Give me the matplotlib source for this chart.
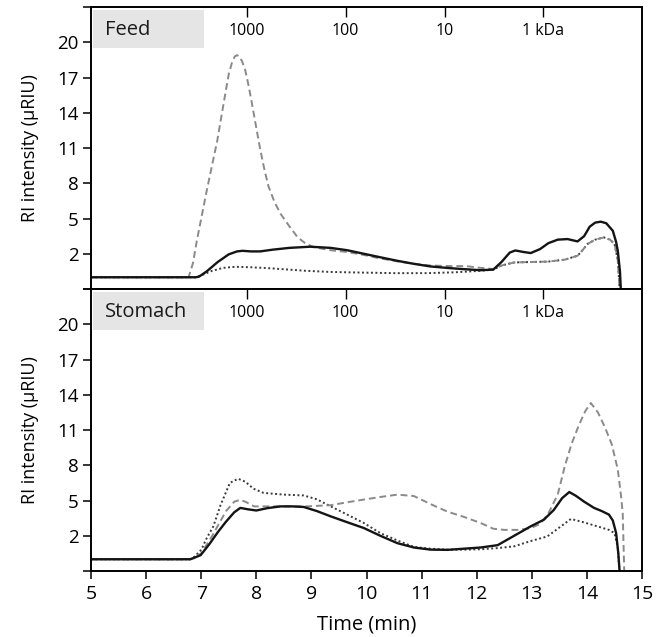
#!/usr/bin/env python
# -*- coding: utf-8 -*-

"""
RI chromatograms of feed and stomach samples,
three traces per panel, with molecular weight marks on top
"""

import sys
import matplotlib
matplotlib.use('Agg')
import matplotlib.pyplot as plt

# Feed panel, solid trace
feed_solid_t = [5.0, 6.9, 6.96, 7.1, 7.3, 7.5, 7.65, 7.75, 7.9, 8.07, 8.3, 8.6,
                8.98, 9.35, 9.65, 9.95, 10.25, 10.56, 10.85, 11.16, 11.5, 11.8,
                12.07, 12.3, 12.45, 12.6, 12.7, 12.85, 12.98, 13.15, 13.3, 13.47,
                13.65, 13.83, 13.95, 14.05, 14.15, 14.25, 14.35, 14.47, 14.53,
                14.56, 14.6, 14.62]
feed_solid_v = [0.0, 0.0, 0.05, 0.5, 1.3, 1.95, 2.2, 2.25, 2.2, 2.2, 2.35, 2.5,
                2.6, 2.5, 2.3, 2.0, 1.7, 1.4, 1.15, 0.92, 0.78, 0.68,
                0.6, 0.65, 1.3, 2.1, 2.28, 2.15, 2.06, 2.4, 2.9, 3.2,
                3.25, 3.05, 3.5, 4.3, 4.65, 4.73, 4.6, 3.96, 3.0,
                2.26, 0.5, -1.5]

# Feed panel, dashed trace
feed_dash_t = [5.0, 6.77, 6.85, 6.92, 7.0, 7.1, 7.2, 7.29, 7.37, 7.44, 7.5,
               7.56, 7.61, 7.65, 7.69, 7.74, 7.8, 7.86, 7.92, 8.0, 8.07, 8.15,
               8.22, 8.33, 8.44, 8.59, 8.75, 8.9, 9.05, 9.35, 9.65, 9.95,
               10.25, 10.56, 10.85, 11.16, 11.5, 11.8, 12.07, 12.3, 12.45,
               12.68, 13.0, 13.29, 13.6, 13.83, 13.92, 14.01, 14.15, 14.31,
               14.42, 14.5, 14.56, 14.6]
feed_dash_v = [0.0, 0.0, 1.2, 3.1, 5.0, 7.37, 9.6, 11.6, 13.8, 15.7, 17.3,
               18.3, 18.8, 18.9, 18.8, 18.4, 17.6, 16.3, 14.8, 12.7, 10.9, 9.1,
               7.75, 6.4, 5.4, 4.4, 3.4, 2.85, 2.55, 2.3, 2.15, 1.9,
               1.6, 1.35, 1.15, 1.0, 0.95, 0.95, 0.8, 0.7, 1.0,
               1.26, 1.3, 1.33, 1.5, 1.83, 2.3, 2.83, 3.2, 3.39,
               3.2, 2.83, 1.5, -1.5]

# Feed panel, dotted trace
feed_dot_t = [5.0, 6.9, 7.02, 7.2, 7.4, 7.62, 7.9, 8.2, 8.44, 8.9, 9.35, 9.9,
              10.5, 11.1, 11.6, 12.07, 12.3, 12.45, 12.68, 13.0, 13.29, 13.6,
              13.83, 13.92, 14.01, 14.15, 14.31, 14.42, 14.5, 14.56, 14.6]
feed_dot_v = [0.0, 0.0, 0.2, 0.55, 0.8, 0.89, 0.85, 0.78, 0.7, 0.55, 0.45, 0.4,
              0.35, 0.35, 0.42, 0.55, 0.65, 1.0, 1.26, 1.3, 1.33, 1.5,
              1.83, 2.3, 2.83, 3.2, 3.39, 3.2, 2.83, 1.5, -1.5]

# Stomach panel, solid trace
stom_solid_t = [5.0, 6.8, 6.86, 6.99, 7.15, 7.3, 7.45, 7.6, 7.71, 7.85, 8.0,
                8.2, 8.44, 8.65, 8.86, 9.1, 9.35, 9.65, 9.95, 10.25, 10.56,
                10.86, 11.16, 11.47, 11.77, 12.07, 12.38, 12.68, 12.98, 13.22,
                13.4, 13.55, 13.68, 13.8, 13.95, 14.13, 14.27, 14.4, 14.47,
                14.53, 14.57, 14.6]
stom_solid_v = [0.0, 0.0, 0.1, 0.35, 1.3, 2.3, 3.2, 4.0, 4.37, 4.25, 4.15,
                4.35, 4.5, 4.5, 4.45, 4.1, 3.65, 3.15, 2.66, 2.0, 1.37,
                1.0, 0.82, 0.8, 0.9, 1.0, 1.2, 2.0, 2.8, 3.37,
                4.2, 5.2, 5.72, 5.4, 4.9, 4.37, 4.1, 3.8, 3.3,
                2.23, 0.5, -1.5]

# Stomach panel, dashed trace
stom_dash_t = [5.0, 6.8, 6.86, 7.0, 7.2, 7.45, 7.6, 7.7, 7.8, 7.96, 8.1, 8.44,
               8.9, 9.35, 9.65, 9.95, 10.25, 10.56, 10.86, 11.16, 11.47, 11.77,
               12.07, 12.3, 12.5, 12.75, 12.98, 13.15, 13.3, 13.47, 13.6, 13.72,
               13.85, 13.97, 14.07, 14.2, 14.33, 14.45, 14.56, 14.62, 14.65,
               14.68]
stom_dash_v = [0.0, 0.0, 0.1, 0.5, 2.0, 4.1, 4.9, 5.05, 4.9, 4.5, 4.5, 4.5,
               4.5, 4.6, 4.85, 5.08, 5.3, 5.5, 5.38, 4.7, 4.05, 3.6,
               3.09, 2.6, 2.5, 2.5, 2.65, 3.0, 3.9, 5.5, 7.94, 9.8,
               11.36, 12.6, 13.3, 12.5, 11.2, 9.8, 7.65, 5.37, 3.9,
               -1.5]

# Stomach panel, dotted trace
stom_dot_t = [5.0, 6.8, 6.86, 7.0, 7.1, 7.22, 7.35, 7.52, 7.67, 7.8, 7.95,
              8.13, 8.5, 8.86, 9.1, 9.35, 9.65, 9.95, 10.25, 10.56, 10.86,
              11.16, 11.47, 11.77, 12.07, 12.38, 12.68, 12.98, 13.28, 13.5,
              13.71, 13.9, 14.19, 14.4, 14.5, 14.56, 14.6]
stom_dot_v = [0.0, 0.0, 0.15, 0.8, 1.8, 2.8, 4.6, 6.5, 6.85, 6.6, 6.0,
              5.65, 5.5, 5.43, 5.1, 4.5, 3.8, 3.09, 2.23, 1.6, 1.05,
              0.9, 0.82, 0.82, 0.85, 0.95, 1.1, 1.55, 1.94, 2.7,
              3.43, 3.2, 2.8, 2.5, 2.23, 1.0, -1.5]

# Molecular weight marks (elution time, label)
mw_times = [7.83, 9.62, 11.42, 13.2]
mw_labels = ['1000', '100', '10', '1 kDa']

y_ticks = [-1, 2, 5, 8, 11, 14, 17, 20, 23]
y_labels = ['', '2', '5', '8', '11', '14', '17', '20', '']
x_ticks = list(range(5, 16))

FONT = ['Open Sans', 'DejaVu Sans']


def draw_panel(axis, name, solid, dash, dot):
    """
    Draw the three traces of one panel, with its name box
    and the molecular weight scale along the top
    """
    axis.plot(dot[0], dot[1], color='#3a3a3a', lw=1.4, ls=(0, (1, 1.3)))
    axis.plot(dash[0], dash[1], color='#8a8a8a', lw=1.4, ls=(0, (3.5, 2)))
    axis.plot(solid[0], solid[1], color='#141414', lw=1.7)

    axis.set_xlim(5, 15)
    axis.set_ylim(-1, 23)
    axis.set_yticks(y_ticks)
    axis.set_yticklabels(y_labels)
    axis.tick_params(axis='y', direction='out', length=6, width=1.1,
                     labelsize=13.5, pad=3)
    for spine in axis.spines.values():
        spine.set_linewidth(1.4)

    # Name box in the upper left corner
    axis.add_patch(plt.Rectangle((0.004, 0.855), 0.201, 0.134,
                                 transform=axis.transAxes, color='#e5e5e5',
                                 lw=0, zorder=0))
    axis.text(0.025, 0.919, name, transform=axis.transAxes, fontsize=14.5,
              va='center', ha='left', color='#1a1a1a', family=FONT)

    # Molecular weight scale, ticks pointing in, labels inside
    secax = axis.secondary_xaxis('top')
    secax.set_xticks(mw_times)
    secax.set_xticklabels(mw_labels)
    secax.tick_params(direction='in', length=7, width=1.0, labelsize=11.5,
                      pad=-23)
    secax.spines['top'].set_visible(False)

    axis.set_ylabel('RI intensity (\u00b5RIU)', fontsize=13, family=FONT,
                    labelpad=13)


def main():
    """
    Build the two stacked panels and save the figure
    """
    plt.rcParams['font.family'] = FONT
    fig = plt.figure(figsize=(6.62, 6.37), dpi=100)
    ax_feed = fig.add_axes([0.1375, 0.5463, 0.8323, 0.4427])
    ax_stom = fig.add_axes([0.1375, 0.1036, 0.8323, 0.4427])

    draw_panel(ax_feed, 'Feed', (feed_solid_t, feed_solid_v),
               (feed_dash_t, feed_dash_v), (feed_dot_t, feed_dot_v))
    draw_panel(ax_stom, 'Stomach', (stom_solid_t, stom_solid_v),
               (stom_dash_t, stom_dash_v), (stom_dot_t, stom_dot_v))

    ax_feed.tick_params(axis='x', bottom=False, labelbottom=False)
    ax_stom.set_xticks(x_ticks)
    ax_stom.tick_params(axis='x', direction='out', length=6, width=1.1,
                        labelsize=14, pad=4)
    ax_stom.set_xlabel('Time (min)', fontsize=14.5, labelpad=8)

    fig.savefig('out.png', dpi=100)
    return 0


if __name__ == '__main__':
    sys.exit(main())
